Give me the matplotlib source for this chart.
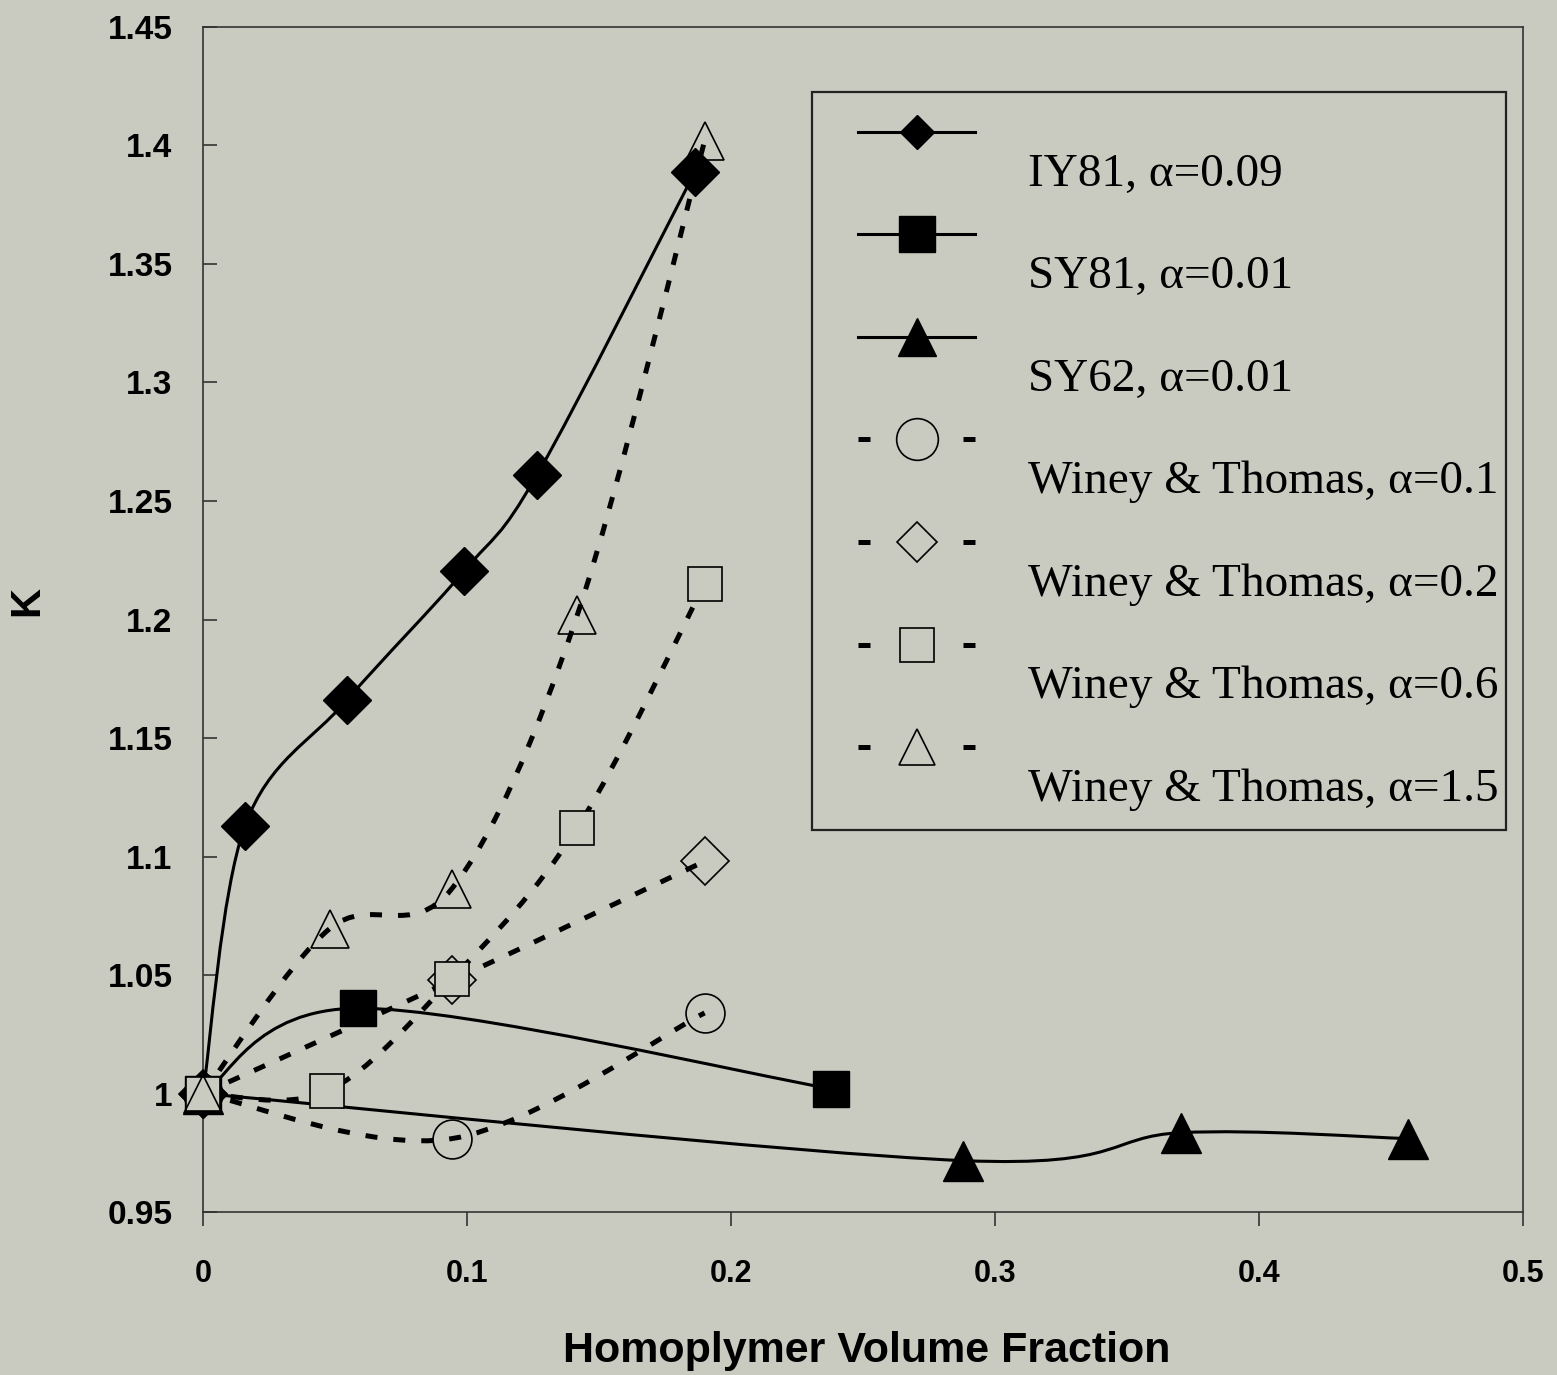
"""K vs homopolymer volume fraction, Excel-style smoothed lines."""
import numpy as np
import matplotlib
matplotlib.use("Agg")
import matplotlib.pyplot as plt
from matplotlib.path import Path
from matplotlib.patches import PathPatch, Rectangle

BG = "#c9cbc1"

# data
iy81_x = [0.0, 0.0159, 0.0545, 0.0989, 0.1265, 0.1864]
iy81_y = [1.0, 1.113, 1.166, 1.2205, 1.261, 1.389]
sy81_x = [0.0, 0.0587, 0.238]
sy81_y = [1.0, 1.036, 1.002]
sy62_x = [0.0, 0.288, 0.3705, 0.4564]
sy62_y = [1.0, 0.9717, 0.9835, 0.981]
wt01_x = [0.0, 0.0943, 0.190]
wt01_y = [1.0, 0.981, 1.034]
wt02_x = [0.0, 0.0943, 0.190]
wt02_y = [1.0, 1.0477, 1.098]
wt06_x = [0.0, 0.047, 0.0943, 0.1417, 0.190]
wt06_y = [1.0, 1.001, 1.0485, 1.112, 1.215]
wt15_x = [0.0, 0.048, 0.0943, 0.1417, 0.190]
wt15_y = [1.0, 1.0696, 1.0865, 1.2017, 1.402]

labels = ["IY81, \u03b1=0.09", "SY81, \u03b1=0.01", "SY62, \u03b1=0.01",
          "Winey & Thomas, \u03b1=0.1", "Winey & Thomas, \u03b1=0.2",
          "Winey & Thomas, \u03b1=0.6", "Winey & Thomas, \u03b1=1.5"]
x_ticks = [0, 0.1, 0.2, 0.3, 0.4, 0.5]
x_ticklabels = ["0", "0.1", "0.2", "0.3", "0.4", "0.5"]
y_ticks = [0.95, 1.0, 1.05, 1.1, 1.15, 1.2, 1.25, 1.3, 1.35, 1.4, 1.45]
y_ticklabels = ["0.95", "1", "1.05", "1.1", "1.15", "1.2", "1.25",
                "1.3", "1.35", "1.4", "1.45"]

SOLID = dict(ls="-", lw=2.2)
DASH = dict(ls=(0, (2.4, 3.2)), lw=3.6)
SOLID_LEG = SOLID
DASH_LEG = dict(ls=(0, (2.4, 8.1)), lw=3.6)
series = [
    (iy81_x, iy81_y, SOLID, dict(marker="D", ms=24, mfc="black", mec="black"), 17),
    (sy81_x, sy81_y, SOLID, dict(marker="s", ms=26, mfc="black", mec="black"), 26),
    (sy62_x, sy62_y, SOLID, dict(marker="^", ms=29, mfc="black", mec="black"), 27),
    (wt01_x, wt01_y, DASH, dict(marker="o", ms=28, mfc="none", mec="black", mew=1.2), 30),
    (wt02_x, wt02_y, DASH, dict(marker="D", ms=24, mfc="none", mec="black", mew=1.2), 20),
    (wt06_x, wt06_y, DASH, dict(marker="s", ms=24, mfc=BG, mec="black", mew=1.2), 24),
    (wt15_x, wt15_y, DASH, dict(marker="^", ms=28, mfc="none", mec="black", mew=1.2), 26),
]


def smooth_path(xs, ys):
    # Catmull-Rom through the points, as cubic Bezier segments
    pts = np.column_stack([xs, ys]).astype(float)
    n = len(pts)
    verts, codes = [pts[0]], [Path.MOVETO]
    for i in range(n - 1):
        p0, p1 = pts[max(i - 1, 0)], pts[i]
        p2, p3 = pts[i + 1], pts[min(i + 2, n - 1)]
        verts += [p1 + (p2 - p0) / 6, p2 - (p3 - p1) / 6, p2]
        codes += [Path.CURVE4] * 3
    return Path(verts, codes)


fig = plt.figure(figsize=(15.57, 13.75), dpi=100, facecolor=BG)
ax = fig.add_axes([0.1304, 0.1185, 0.8478, 0.8619], facecolor=BG)

for xs, ys, lstyle, mstyle, _ in series:
    ax.add_patch(PathPatch(smooth_path(xs, ys), fill=False, color="black",
                           capstyle="butt", zorder=2, **lstyle))
for xs, ys, lstyle, mstyle, _ in series:
    ax.plot(xs, ys, ls="none", zorder=3, clip_on=False, **mstyle)

ax.set_xlim(0, 0.5)
ax.set_ylim(0.95, 1.45)
ax.set_xticks(x_ticks)
ax.set_xticklabels(x_ticklabels)
ax.set_yticks(y_ticks)
ax.set_yticklabels(y_ticklabels)
for lab in ax.get_xticklabels():
    lab.set_fontfamily("Liberation Sans")
    lab.set_fontweight("bold")
    lab.set_fontsize(22)
for lab in ax.get_yticklabels():
    lab.set_fontfamily("Liberation Sans")
    lab.set_fontweight("bold")
    lab.set_fontsize(24)
ax.tick_params(axis="y", direction="in", length=10, width=1.2, pad=22, color="#333333")
ax.tick_params(axis="x", direction="out", length=10, width=1.2, pad=24, color="#333333")
for sp in ax.spines.values():
    sp.set_color("#333333")
    sp.set_linewidth(1.2)

ax.set_xlabel("Homoplymer Volume Fraction", fontfamily="Liberation Sans",
              fontweight="bold", fontsize=31)
ax.xaxis.set_label_coords(0.503, -0.100)
ax.set_ylabel("K", fontfamily="Liberation Sans", fontweight="bold", fontsize=30)
ax.yaxis.set_label_coords(-0.118, 0.516)

# legend drawn by hand: handles sit above their labels, as in the original
ax.add_patch(Rectangle((0.4614, 0.3224), 0.5256, 0.6226, transform=ax.transAxes,
                       fill=False, ec="#222222", lw=1.6, zorder=4))
for i, (xs, ys, lstyle, mstyle, lms) in enumerate(series):
    hy = 0.9114 - i * 0.0865
    leg_ls = DASH_LEG if lstyle is DASH else SOLID_LEG
    ax.plot([0.4962, 0.5848], [hy, hy], color="black", transform=ax.transAxes,
            clip_on=False, zorder=5, dash_capstyle="butt", **leg_ls)
    mk = dict(mstyle)
    mk["ms"] = lms
    if mk["mfc"] == "none":
        mk["mfc"] = BG
    ax.plot([0.541], [hy], ls="none", transform=ax.transAxes, clip_on=False,
            zorder=6, **mk)
    ax.text(0.625, hy - 0.036, labels[i], transform=ax.transAxes, va="center",
            ha="left", fontfamily="Liberation Serif", fontsize=34, zorder=6)

fig.savefig("out.png", dpi=100, facecolor=BG)
